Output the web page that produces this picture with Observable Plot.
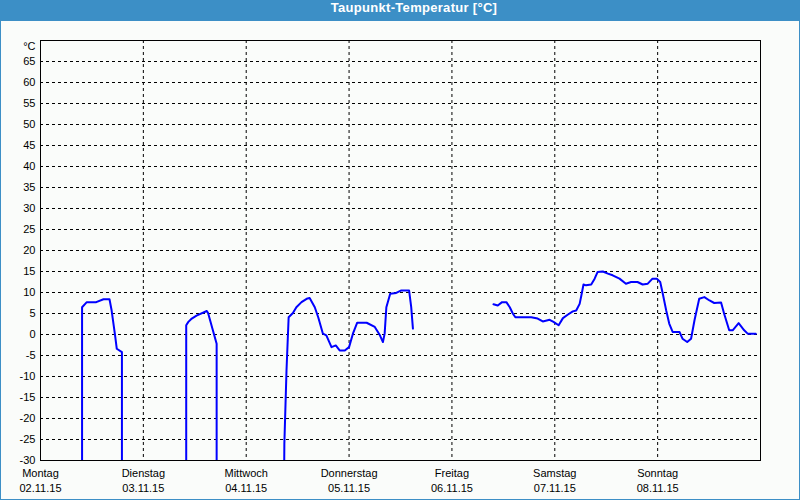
<!DOCTYPE html>
<html>
<head>
<meta charset="utf-8">
<script src="https://cdn.jsdelivr.net/npm/d3@7"></script>
<script src="https://cdn.jsdelivr.net/npm/@observablehq/plot@0.6"></script>
<style>
  html, body { margin: 0; padding: 0; background: #fafcfa; }
  #wrap { position: relative; width: 800px; height: 500px; background: #3c8fc6; overflow: hidden; }
  #title { position: absolute; left: 28px; top: 0; width: 772px; height: 21px; line-height: 21px;
           color: #ffffff; font: bold 13px "Liberation Sans", Arial, sans-serif; letter-spacing: 0.3px; text-align: center; }
  #inner { position: absolute; left: 1px; top: 21px; width: 798px; height: 478px; background: #fafcfa; }
  #chart { position: absolute; left: 0; top: 0; }
</style>
</head>
<body>
<div id="wrap">
  <div id="title">Taupunkt-Temperatur [°C]</div>
  <div id="inner"></div>
  <div id="chart"></div>
</div>
<script>
// Series: dew point readings, hours since Mon 02.11.15 00:00; -60 = sensor offline (below chart)
const segment = [
  1,1,1,1,1,1,1,1,1,1,1,
  2,2,2,2,2,2,2,2,2,
  3,3,3,3,3,3,3,3,3,3,3,3,3,3,3,3,3,3,3,3,3,3,3,3,3,3,3,3,3,3,3,3,
  4,4,4,4,4,4,4,4,4,4,4,4,4,4,4,4,4,4,4,4,4,4,4,4,4,4,4,4,4,4,4,4,4,4,4,4,4,4,4,4,4,4,4,4,4,4,4,4,4,4,4,4,4,4,4,4,4,4
];
const hours = [
  9.7, 9.7, 10.8, 13.0, 14.7, 16.1, 16.6, 17.4, 17.8, 19.0, 19.0,
  34.0, 34.0, 34.5, 35.3, 36.4, 38.8, 39.1, 41.1, 41.1,
  56.65, 56.9, 57.4, 57.9, 58.9, 59.7, 60.9, 62.1, 62.8, 64.0, 64.8, 65.9, 66.7, 67.9, 68.9, 69.8,
  71.0, 72.0, 72.9, 73.9, 76.1, 78.0, 79.2, 79.9, 80.3, 80.7, 81.6, 83.0, 84.2, 86.0, 86.5, 86.9,
  105.7, 106.7, 107.7, 108.7, 109.5, 110.2, 110.8, 114.5, 116.0, 117.2, 118.8, 119.7, 120.9, 121.9,
  123.0, 124.2, 125.0, 125.8, 126.2, 126.7, 127.3, 128.5, 129.3, 130.0, 131.2, 132.4, 133.5, 135.1,
  136.6, 137.8, 139.3, 140.5, 141.7, 142.8, 143.8, 144.6, 145.2, 146.0, 146.7, 147.5, 149.1, 149.8,
  150.9, 151.8, 152.6, 153.7, 154.9, 156.1, 157.2, 158.8, 159.5, 160.7, 161.5, 162.9, 164.2, 165.0, 166.9
];
const dewpoint = [
  -60, 6.5, 7.7, 7.7, 8.4, 8.4, 5.7, -0.2, -3.4, -4.2, -60,
  -60, 2.2, 3.0, 3.8, 4.5, 5.6, 5.1, -2.2, -60,
  -60, -26, -8.6, 4.1, 5.1, 6.5, 7.7, 8.5, 8.7, 6.5, 4.1, 0.2, -0.2, -3.0, -2.6, -3.8,
  -3.8, -3.0, 0.2, 2.8, 2.8, 1.8, -0.2, -1.8, 0.2, 6.5, 9.7, 9.9, 10.5, 10.5, 6.5, 1.4,
  7.2, 6.9, 7.7, 7.7, 6.5, 5.0, 4.1, 4.1, 3.8, 3.1, 3.5, 3.0, 2.2, 3.9,
  4.7, 5.5, 5.7, 7.3, 9.3, 11.9, 11.7, 11.9, 13.3, 14.9, 15.0, 14.5, 14.1, 13.3,
  12.1, 12.5, 12.5, 11.9, 12.1, 13.3, 13.3, 12.5, 9.7, 5.7, 2.6, 0.6, 0.6, -1.0,
  -1.8, -1.0, 3.4, 8.5, 8.9, 8.1, 7.5, 7.6, 5.0, 1.0, 1.0, 2.7, 1.0, 0.2, 0.2
];

// Axis labels
const dayNames = ["Montag", "Dienstag", "Mittwoch", "Donnerstag", "Freitag", "Samstag", "Sonntag"];
const dayDates = ["02.11.15", "03.11.15", "04.11.15", "05.11.15", "06.11.15", "07.11.15", "08.11.15"];
const yTicks = [-30, -25, -20, -15, -10, -5, 0, 5, 10, 15, 20, 25, 30, 35, 40, 45, 50, 55, 60, 65];
const yUnit = "°C";

const start = Date.UTC(2015, 10, 2);
const H = 3600 * 1000;
const data = hours.map((h, i) => ({ t: new Date(start + h * H), v: dewpoint[i], seg: segment[i] }));
const dayTicks = dayNames.map((_, i) => new Date(start + i * 24 * H));
const nameOf = new Map(dayTicks.map((d, i) => [d.getTime(), dayNames[i]]));
const dateOf = new Map(dayTicks.map((d, i) => [d.getTime(), dayDates[i]]));

const chart = Plot.plot({
  width: 800,
  height: 500,
  marginTop: 40,
  marginBottom: 40,
  marginLeft: 40,
  marginRight: 40,
  style: { background: "transparent", color: "black", fontFamily: "'Liberation Sans', Arial, sans-serif", fontSize: "11px", overflow: "visible" },
  x: { type: "utc", domain: [new Date(start), new Date(start + 7 * 24 * H)] },
  y: { domain: [-30, 70] },
  marks: [
    Plot.gridY(yTicks.slice(1), { stroke: "black", strokeOpacity: 1, strokeDasharray: "3,3" }),
    Plot.gridX(dayTicks.slice(1), { stroke: "black", strokeOpacity: 1, strokeDasharray: "3,3" }),
    Plot.line(data, { x: "t", y: "v", z: "seg", stroke: "#0000ff", strokeWidth: 2, clip: true, strokeLinejoin: "round" }),
    Plot.frame({ stroke: "black" }),
    Plot.axisY(yTicks, { tickSize: 0, tickPadding: 5, label: null, tickFormat: d => String(d) }),
    Plot.axisY([70], { tickSize: 0, tickPadding: 5, label: null, tickFormat: () => yUnit, dy: 6 }),
    Plot.axisX(dayTicks, { tickSize: 0, tickPadding: 9, label: null, tickFormat: d => nameOf.get(d.getTime()) }),
    Plot.axisX(dayTicks, { tickSize: 0, tickPadding: 24, label: null, tickFormat: d => dateOf.get(d.getTime()) })
  ]
});
document.getElementById("chart").appendChild(chart);
</script>
</body>
</html>
